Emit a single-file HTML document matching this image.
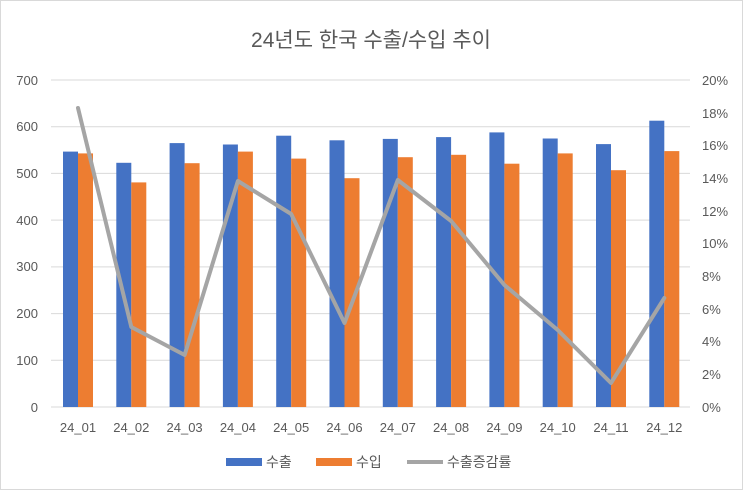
<!DOCTYPE html>
<html><head><meta charset="utf-8"><style>
body{margin:0;background:#fff;}
svg text{font-family:"Liberation Sans","Noto Sans CJK KR",sans-serif;fill:#595959;}
</style></head><body>
<svg width="743" height="490" viewBox="0 0 743 490" xmlns="http://www.w3.org/2000/svg">
<rect x="0.5" y="0.5" width="742" height="489" fill="#fff" stroke="#d9d9d9"/>
<text x="371" y="47" font-size="21" text-anchor="middle">24년도 한국 수출/수입 추이</text>
<g stroke="#d9d9d9" stroke-width="1">
<line x1="51" x2="690" y1="80" y2="80"/><line x1="51" x2="690" y1="126.7" y2="126.7"/>
<line x1="51" x2="690" y1="173.4" y2="173.4"/><line x1="51" x2="690" y1="220.1" y2="220.1"/>
<line x1="51" x2="690" y1="266.9" y2="266.9"/><line x1="51" x2="690" y1="313.6" y2="313.6"/>
<line x1="51" x2="690" y1="360.3" y2="360.3"/><line x1="51" x2="690" y1="407" y2="407"/>
</g>
<g font-size="13" text-anchor="end">
<text x="38" y="85">700</text><text x="38" y="131">600</text><text x="38" y="178">500</text>
<text x="38" y="225">400</text><text x="38" y="271">300</text><text x="38" y="318">200</text>
<text x="38" y="365">100</text><text x="38" y="412">0</text>
</g>
<g font-size="13" text-anchor="start">
<text x="702" y="85">20%</text><text x="702" y="118">18%</text><text x="702" y="150">16%</text>
<text x="702" y="183">14%</text><text x="702" y="216">12%</text><text x="702" y="248">10%</text>
<text x="702" y="281">8%</text><text x="702" y="314">6%</text><text x="702" y="346">4%</text>
<text x="702" y="379">2%</text><text x="702" y="412">0%</text>
</g>
<g fill="#4472c4">
<rect x="63" y="151.6" width="15" height="255.4"/>
<rect x="116.3" y="162.8" width="15" height="244.2"/>
<rect x="169.6" y="143.1" width="15" height="263.9"/>
<rect x="222.9" y="144.5" width="15" height="262.5"/>
<rect x="276.2" y="135.7" width="15" height="271.3"/>
<rect x="329.5" y="140.3" width="15" height="266.7"/>
<rect x="382.8" y="138.9" width="15" height="268.1"/>
<rect x="436.1" y="137.1" width="15" height="269.9"/>
<rect x="489.4" y="132.4" width="15" height="274.6"/>
<rect x="542.7" y="138.5" width="15" height="268.5"/>
<rect x="596" y="144.1" width="15" height="262.9"/>
<rect x="649.3" y="120.7" width="15" height="286.3"/>
</g>
<g fill="#ed7d31">
<rect x="78" y="153.4" width="15" height="253.6"/>
<rect x="131.3" y="182.4" width="15" height="224.6"/>
<rect x="184.6" y="163.2" width="15" height="243.8"/>
<rect x="237.9" y="151.6" width="15" height="255.4"/>
<rect x="291.2" y="158.6" width="15" height="248.4"/>
<rect x="344.5" y="178.2" width="15" height="228.8"/>
<rect x="397.8" y="157.2" width="15" height="249.8"/>
<rect x="451.1" y="154.8" width="15" height="252.2"/>
<rect x="504.4" y="163.7" width="15" height="243.3"/>
<rect x="557.7" y="153.4" width="15" height="253.6"/>
<rect x="611" y="170.2" width="15" height="236.8"/>
<rect x="664.3" y="151.1" width="15" height="255.9"/>
</g>
<polyline points="78,108 131.3,327 184.6,355 237.9,181 291.2,214 344.5,323 397.8,180 451.1,221 504.4,285 557.7,330 611,383 664.3,298" fill="none" stroke="#a5a5a5" stroke-width="4" stroke-linejoin="round" stroke-linecap="round"/>
<g font-size="13" text-anchor="middle">
<text x="78" y="432">24_01</text><text x="131.3" y="432">24_02</text><text x="184.6" y="432">24_03</text>
<text x="237.9" y="432">24_04</text><text x="291.2" y="432">24_05</text><text x="344.5" y="432">24_06</text>
<text x="397.8" y="432">24_07</text><text x="451.1" y="432">24_08</text><text x="504.4" y="432">24_09</text>
<text x="557.7" y="432">24_10</text><text x="611" y="432">24_11</text><text x="664.3" y="432">24_12</text>
</g>
<rect x="226" y="458" width="36" height="8" fill="#4472c4"/>
<text x="266" y="467" font-size="14">수출</text>
<rect x="316" y="458" width="36" height="8" fill="#ed7d31"/>
<text x="356" y="467" font-size="14">수입</text>
<line x1="407" x2="443" y1="462" y2="462" stroke="#a5a5a5" stroke-width="4"/>
<text x="447" y="467" font-size="14">수출증감률</text>
</svg>
</body></html>
